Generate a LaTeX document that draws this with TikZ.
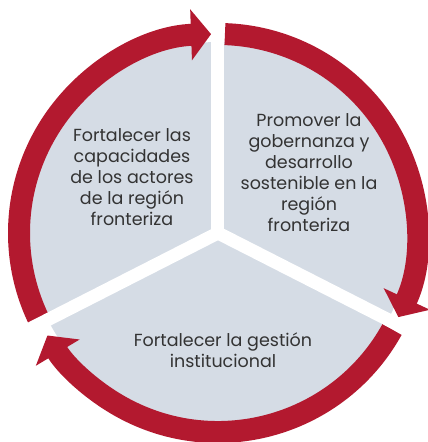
\documentclass[tikz,border=0pt]{standalone}
\usepackage{fontspec}
\setmainfont{Poppins}
\usetikzlibrary{arrows.meta}

\definecolor{ringred}{HTML}{B3192F}
\definecolor{sectorgrey}{HTML}{D5DCE5}
\definecolor{textgrey}{HTML}{333333}

\tikzset{
  ring/.style={draw=ringred, line width=22pt, -{Triangle[width=50pt, length=20pt]}},
  gap/.style={white, line width=13pt, line cap=round},
  goaltext/.style={align=center, text=textgrey, font=\fontsize{17.5}{21}\selectfont}
}

\begin{document}
\begin{tikzpicture}[x=1pt, y=1pt]

  \useasboundingbox (-218,-209) rectangle (210,233);

  % coordinates
  \coordinate (O) at (0,0);
  \coordinate (sepT) at (90:216);
  \coordinate (sepR) at (-27:216);
  \coordinate (sepL) at (207:216);

  % shaded disc
  \fill[sectorgrey] (O) circle[radius=191];

  % arrows round the disc
  \draw[ring] (207:199) arc[start angle=207, end angle=92, radius=199];
  \draw[ring] (88:199) arc[start angle=88, end angle=-25, radius=199];
  \draw[ring] (-29:199) arc[start angle=-29, end angle=-149, radius=199];

  % white gaps between the sectors
  \foreach \p in {sepT,sepR,sepL}
    \draw[gap] (O) -- (\p);

  % texts
  \node[goaltext] (capacidades) at (-86,56)
    {Fortalecer las\\capacidades\\de los actores\\de la región\\fronteriza};
  \node[goaltext] (gobernanza) at (91,60)
    {Promover la\\gobernanza y\\desarrollo\\sostenible en la\\región\\fronteriza};
  \node[goaltext] (gestion) at (5,-117)
    {Fortalecer la gestión\\institucional};
\end{tikzpicture}
\end{document}
